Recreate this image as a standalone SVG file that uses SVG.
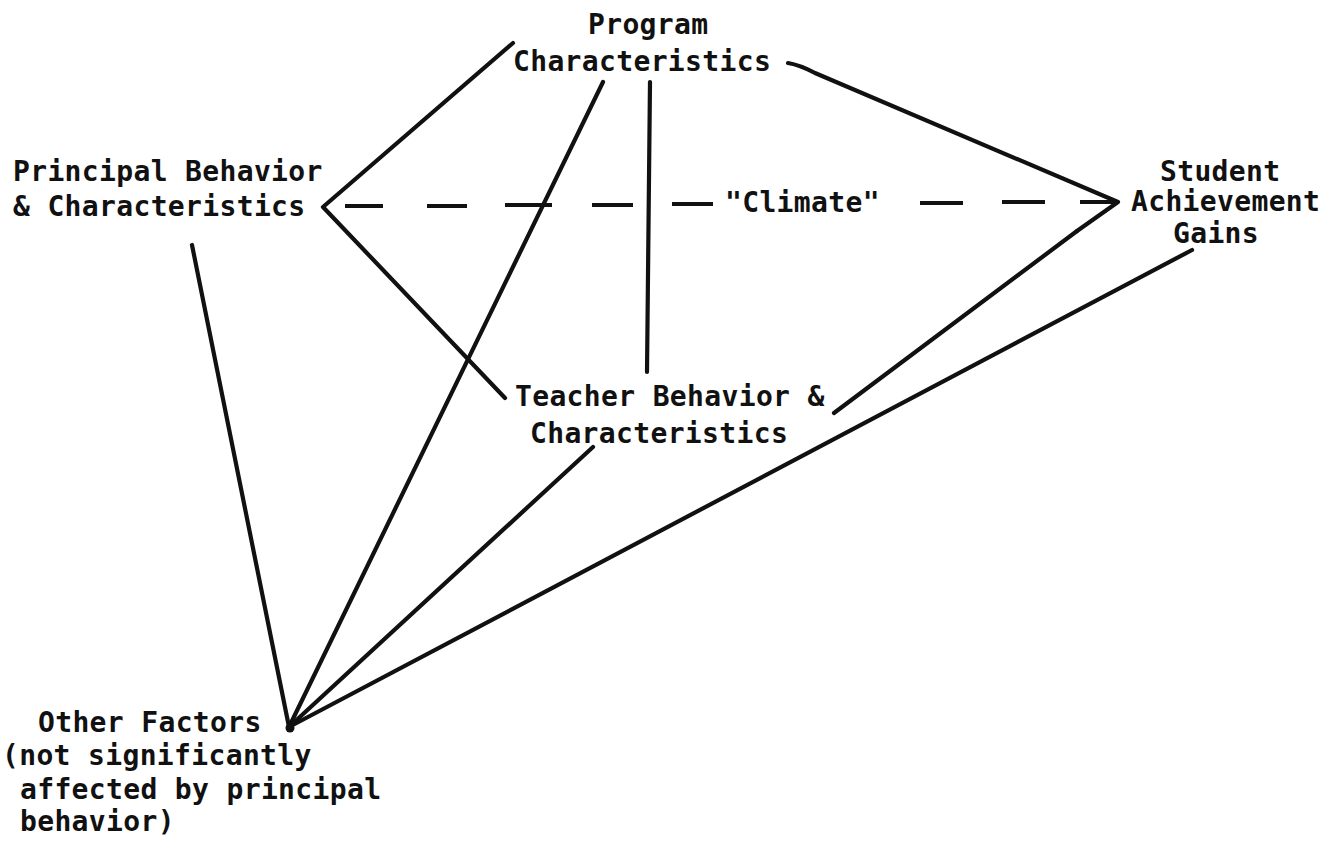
<svg xmlns="http://www.w3.org/2000/svg" width="1325" height="847" viewBox="0 0 1325 847">
<style>
.t{font-family:"DejaVu Sans Mono","Liberation Mono",monospace;font-weight:bold;font-size:28px;letter-spacing:0.35px;fill:#111}
.l{stroke:#111;stroke-width:4.2;fill:none;stroke-linecap:round;stroke-linejoin:round}
.d{stroke:#111;stroke-width:4.2;fill:none;stroke-linecap:butt}
</style>
<rect width="1325" height="847" fill="#fff"/>
<g id="connectors">
<path class="l" d="M513,43 L323,207 L505,398"/>
<path class="l" d="M603,82 L289,727"/>
<path class="l" d="M650,82 L647,372"/>
<path class="l" d="M788,63 Q800,65 815,73 L1118,202 L1077,231"/>
<path class="l" d="M1077,231 L834,413"/>
<path class="l" d="M192,245 L289,727"/>
<path class="l" d="M593,447 L289,727"/>
<path class="l" d="M1192,250 L289,727"/>
<g class="d">
<line x1="345" y1="206" x2="383" y2="206"/>
<line x1="427" y1="206" x2="467" y2="206"/>
<line x1="505" y1="205" x2="552" y2="205"/>
<line x1="592" y1="205" x2="633" y2="205"/>
<line x1="672" y1="204" x2="713" y2="204"/>
<line x1="920" y1="203" x2="963" y2="203"/>
<line x1="1002" y1="202" x2="1045" y2="202"/>
<line x1="1080" y1="202" x2="1118" y2="202"/>
</g>
<circle cx="290" cy="728" r="4.5" fill="#111"/>
</g>
<g id="program">
<text class="t" x="588" y="34">Program</text>
<text class="t" x="513" y="71">Characteristics</text>
</g>
<g id="principal">
<text class="t" x="13" y="181">Principal Behavior</text>
<text class="t" x="13" y="216">&amp; Characteristics</text>
</g>
<g id="climate">
<text class="t" x="725" y="212">"Climate"</text>
</g>
<g id="student">
<text class="t" x="1160" y="181">Student</text>
<text class="t" x="1131" y="211">Achievement</text>
<text class="t" x="1173" y="243">Gains</text>
</g>
<g id="teacher">
<text class="t" x="515" y="406">Teacher Behavior &amp;</text>
<text class="t" x="530" y="443">Characteristics</text>
</g>
<g id="other">
<text class="t" x="38" y="732">Other Factors</text>
<text class="t" x="2" y="765">(not significantly</text>
<text class="t" x="20" y="799">affected by principal</text>
<text class="t" x="20" y="831">behavior)</text>
</g>
</svg>
